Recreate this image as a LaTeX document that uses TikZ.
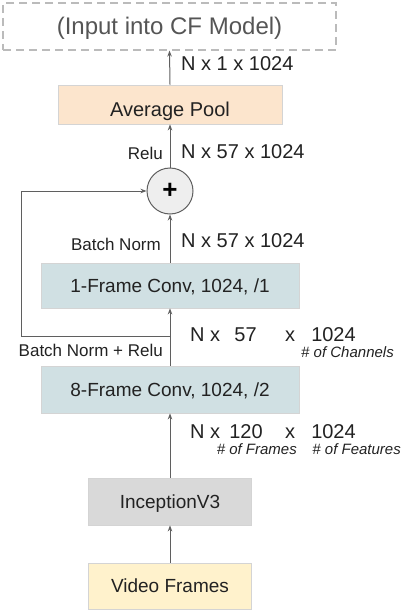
\documentclass[tikz,border=0pt]{standalone}
\usepackage{fontspec}
\setmainfont{Liberation Sans}
\usetikzlibrary{arrows.meta}
\definecolor{txt}{HTML}{222222}
\definecolor{ttl}{HTML}{555555}
\definecolor{arr}{HTML}{5F5F5F}
\definecolor{bord}{HTML}{D4D4D4}
\definecolor{peach}{HTML}{FCE5CD}
\definecolor{cyanish}{HTML}{D0E0E3}
\definecolor{lgray}{HTML}{D9D9D9}
\definecolor{lyellow}{HTML}{FFF2CC}
\definecolor{circfill}{HTML}{EEEEEE}
\definecolor{dashcol}{HTML}{BBBBBB}
\tikzset{
  boxst/.style={draw=bord, line width=0.8pt, inner sep=0pt, text=txt,
    font=\fontsize{19}{22}\selectfont, text height=13.6pt, text depth=0pt},
  arrst/.style={draw=arr, line width=1pt, -{Stealth[length=6pt,width=4.5pt]}},
  dimst/.style={text=txt, inner sep=0pt, font=\fontsize{20}{24}\selectfont, text height=14.3pt, text depth=0pt},
  smallst/.style={text=txt, inner sep=0pt, font=\fontsize{17}{20}\selectfont, text height=12.2pt, text depth=0pt},
  notest/.style={text=txt, inner sep=0pt, font=\fontsize{15}{18}\selectfont\itshape, text height=10.8pt, text depth=0pt},
}
\begin{document}
\begin{tikzpicture}[x=1pt,y=-1pt]
\useasboundingbox (0,0) rectangle (415,610);
% boxes
\node[draw=dashcol, line width=1.2pt, dash pattern=on 8pt off 5pt, minimum width=333pt, minimum height=47pt, inner sep=0pt,
  text=ttl, font=\fontsize{24}{28}\selectfont, text height=17pt, text depth=0pt] (out) at (169.5,26.5) {(Input into CF Model)};
\node[boxst, fill=peach, minimum width=224pt, minimum height=39pt, font=\fontsize{20}{24}\selectfont, text height=23.3pt] (avg) at (170,104.5) {Average Pool};
\node[draw=arr, fill=circfill, line width=1pt, circle, minimum size=46pt, inner sep=0pt] (circ) at (170,191) {};
\node[font=\fontsize{26}{26}\selectfont\bfseries, inner sep=0pt] (plus) at (circ.center) {+};
\node[boxst, fill=cyanish, minimum width=258pt, minimum height=45pt] (c1) at (170,285.5) {1-Frame Conv, 1024, /1};
\node[boxst, fill=cyanish, minimum width=258pt, minimum height=47pt] (c8) at (170,389.5) {8-Frame Conv, 1024, /2};
\node[boxst, fill=lgray, minimum width=163pt, minimum height=47pt] (inc) at (170,501.5) {InceptionV3};
\node[boxst, fill=lyellow, minimum width=163pt, minimum height=46pt] (vid) at (170,586) {Video Frames};
% connectors
\draw[arrst] (vid.north) -- (inc.south);
\draw[arrst] (inc.north) -- (c8.south);
\draw[arrst] (c8.north) -- (c1.south);
\coordinate (br) at (170,336);
\coordinate (fb) at (21,336);
\draw[arrst] (br) -- (fb) |- (circ.west);
\draw[arrst] (c1.north) -- (circ.south);
\draw[arrst] (circ.north) -- (avg.south);
\draw[arrst] (avg.north) -- (out.south);
% labels
\node[dimst, anchor=west] (l1) at (181,63) {N x 1 x 1024};
\node[dimst, anchor=west] (l2) at (181,151) {N x 57 x 1024};
\node[smallst, anchor=east] (relu) at (163,153) {Relu};
\node[dimst, anchor=west] (l3) at (181,240) {N x 57 x 1024};
\node[smallst, anchor=east] (bn) at (161,244) {Batch Norm};
\node[dimst, anchor=west] (l4a) at (190,334) {N x};
\node[dimst] (l4b) at (245.5,334) {57};
\node[dimst] (l4c) at (290,334) {x};
\node[dimst] (l4d) at (333.5,334) {1024};
\node[notest, anchor=east] (ch) at (394,352) {\# of Channels};
\node[smallst, anchor=east] (bnr) at (163,350) {Batch Norm + Relu};
\node[dimst, anchor=west] (l5a) at (190,431) {N x};
\node[dimst] (l5b) at (246,431) {120};
\node[dimst] (l5c) at (290,431) {x};
\node[dimst] (l5d) at (333.5,431) {1024};
\node[notest, anchor=east] (fr) at (297,449) {\# of Frames};
\node[notest, anchor=east] (fe) at (401,449) {\# of Features};
\end{tikzpicture}
\end{document}
